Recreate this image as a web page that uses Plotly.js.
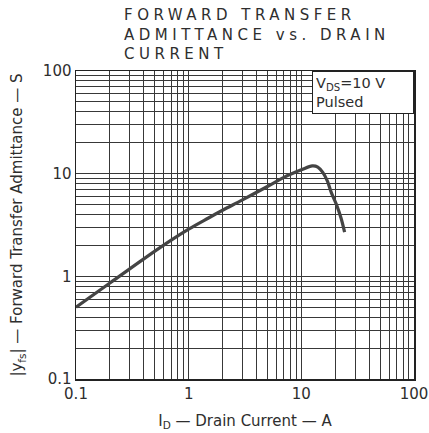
<!DOCTYPE html>
<html>
<head>
<meta charset="utf-8">
<script src="https://cdn.plot.ly/plotly-3.0.1.min.js"></script>
<style>
  html, body { margin: 0; padding: 0; background: #fff; }
  .title-annot text { letter-spacing: 4.5px; }
</style>
</head>
<body>
<div id="chart" style="width:429px;height:433px;"></div>
<script>
// Drain current I_D (A)
const drainCurrent = [0.1, 0.2, 0.4, 0.7, 1, 1.5, 2, 3, 5, 7, 10, 12.5, 14, 15.5, 17, 18.5, 20.5, 22.5, 24.2];
// Forward transfer admittance |yfs| (S)
const admittance   = [0.5, 0.86, 1.48, 2.25, 2.88, 3.7, 4.4, 5.55, 7.5, 9.2, 10.9, 11.9, 11.6, 10.3, 8.5, 6.5, 5.0, 3.7, 2.7];

const gridVals = [0.1,0.2,0.3,0.4,0.5,0.6,0.7,0.8,0.9,1,2,3,4,5,6,7,8,9,10,20,30,40,50,60,70,80,90,100];
const gridText = gridVals.map(v => (v === 0.1 || v === 1 || v === 10 || v === 100) ? String(v) : '');

const titleText = 'FORWARD TRANSFER<br>ADMITTANCE vs. DRAIN<br>CURRENT';
const legendText = 'V<sub>DS</sub>=10 V<br>Pulsed';

const FONT = 'DejaVu Sans, Verdana, sans-serif';
const ink = '#2e2e2e';
const gridCol = '#383838';

const trace = {
  x: drainCurrent,
  y: admittance,
  type: 'scatter',
  mode: 'lines',
  line: { color: '#444', width: 3.2, shape: 'spline', smoothing: 1 },
  hoverinfo: 'skip'
};

const axisCommon = {
  type: 'log',
  tickmode: 'array',
  tickvals: gridVals,
  ticktext: gridText,
  showgrid: true,
  gridcolor: gridCol,
  gridwidth: 1,
  zeroline: false,
  showline: true,
  linecolor: '#222',
  linewidth: 1.5,
  mirror: true,
  ticks: '',
  tickfont: { family: FONT, size: 15, color: ink }
};

const layout = {
  width: 429,
  height: 433,
  margin: { l: 76, r: 15, t: 71, b: 54 },
  paper_bgcolor: '#fff',
  plot_bgcolor: '#fff',
  showlegend: false,
  font: { family: FONT, color: ink },
  xaxis: Object.assign({}, axisCommon, {
    range: [-1, 2],
    title: { text: 'I<sub>D</sub> \u2014 Drain Current \u2014 A', font: { size: 15, color: ink }, standoff: 14 }
  }),
  yaxis: Object.assign({}, axisCommon, {
    range: [-1, 2],
    ticklabelstandoff: 0,
    title: { text: '|y<sub>fs</sub>| \u2014 Forward Transfer Admittance \u2014 S', font: { size: 15, color: ink }, standoff: 16 }
  }),
  annotations: [{
    text: titleText,
    xref: 'paper', yref: 'paper',
    x: (123 - 76) / 338, y: (379 - 5) / 308,
    xanchor: 'left', yanchor: 'top',
    align: 'left',
    showarrow: false,
    borderpad: 0,
    font: { family: FONT, size: 15, color: ink }
  }, {
    text: legendText,
    xref: 'paper', yref: 'paper',
    x: 1, y: 1,
    xanchor: 'right', yanchor: 'top',
    align: 'left',
    showarrow: false,
    bgcolor: '#fff',
    bordercolor: '#222',
    borderwidth: 1,
    borderpad: 3,
    width: 94,
    font: { family: FONT, size: 14.5, color: ink }
  }]
};

Plotly.newPlot('chart', [trace], layout, { staticPlot: true, displayModeBar: false }).then(function () {
  const g = document.querySelector('.annotation');
  if (g) g.classList.add('title-annot');
});
</script>
</body>
</html>
